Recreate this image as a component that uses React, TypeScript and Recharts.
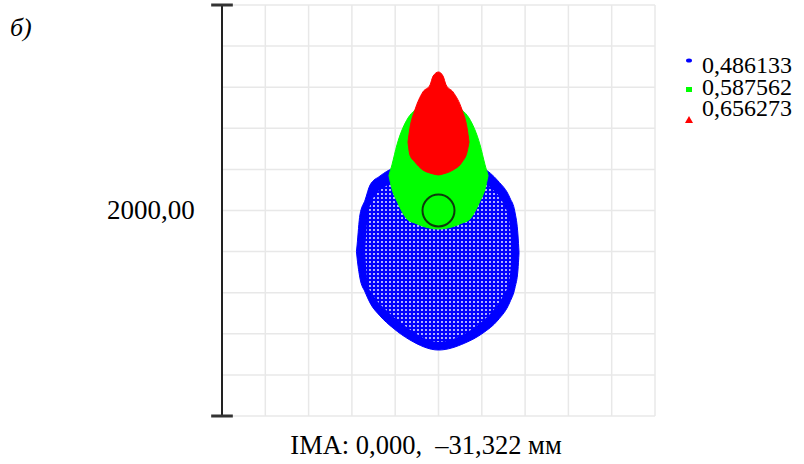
import { ComposedChart, Area, XAxis, YAxis, CartesianGrid, ReferenceLine, ReferenceDot } from "recharts";

// spot diagram, units: µm on the image plane, 200 µm per grid cell
const gridTicks = [-1000, -800, -600, -400, -200, 0, 200, 400, 600, 800, 1000];
const wavelengths = ["0,486133", "0,587562", "0,656273"];
const scaleLabel = "2000,00";
const fieldLabel = "IMA: 0,000,  –31,322 мм";
const airyRadius = 16;

// outline of each spot as [bottom, top] per x
const blueSpot = [
  { x: -379, y: [-200, -200] },
  { x: -376, y: [-231, -168] },
  { x: -363, y: [-328, -22] },
  { x: -339, y: [-397, 51] },
  { x: -316, y: [-450, 124] },
  { x: -270, y: [-513, 168] },
  { x: -210, y: [-572, 207] },
  { x: -132, y: [-630, 236] },
  { x: 0, y: [-679, 255] },
  { x: 122, y: [-645, 236] },
  { x: 206, y: [-596, 207] },
  { x: 275, y: [-533, 144] },
  { x: 330, y: [-445, 61] },
  { x: 353, y: [-377, -7] },
  { x: 367, y: [-290, -119] },
  { x: 372, y: [-205, -205] },
];

// inner part of the blue spot where the ray grid is sparse
const blueInner = [
  { x: -339, y: [-200, -200] },
  { x: -326, y: [-363, -22] },
  { x: -293, y: [-426, 75] },
  { x: -242, y: [-484, 119] },
  { x: -178, y: [-543, 158] },
  { x: -109, y: [-596, 178] },
  { x: 0, y: [-640, 187] },
  { x: 109, y: [-606, 178] },
  { x: 182, y: [-557, 158] },
  { x: 242, y: [-499, 109] },
  { x: 298, y: [-416, 36] },
  { x: 326, y: [-348, -46] },
  { x: 339, y: [-200, -200] },
];

const greenSpot = [
  { x: -229, y: [170, 170] },
  { x: -215, y: [105, 222] },
  { x: -192, y: [46, 319] },
  { x: -141, y: [-46, 450] },
  { x: -109, y: [-61, 489] },
  { x: -62, y: [-80, 528] },
  { x: 0, y: [-90, 547] },
  { x: 62, y: [-80, 528] },
  { x: 109, y: [-61, 489] },
  { x: 141, y: [-46, 450] },
  { x: 192, y: [46, 319] },
  { x: 215, y: [105, 222] },
  { x: 229, y: [170, 170] },
];

const redSpot = [
  { x: -141, y: [333, 333] },
  { x: -132, y: [270, 401] },
  { x: -109, y: [236, 489] },
  { x: -72, y: [197, 577] },
  { x: -39, y: [182, 611] },
  { x: -25, y: [178, 654] },
  { x: 0, y: [173, 674] },
  { x: 21, y: [178, 654] },
  { x: 35, y: [182, 611] },
  { x: 67, y: [197, 577] },
  { x: 109, y: [236, 489] },
  { x: 132, y: [285, 401] },
  { x: 141, y: [333, 333] },
];

const BLUE = "#0000ff";
const GREEN = "#00ff00";
const RED = "#ff0000";
const serif = '"Liberation Serif", "Times New Roman", serif';

function Marker({ kind, color }: { kind: string; color: string }) {
  const st = { display: "block" };
  if (kind === "tri")
    return (
      <svg width={8} height={7} style={st}>
        <polygon points="4,0 8,7 0,7" fill={color} />
      </svg>
    );
  if (kind === "sq")
    return (
      <svg width={8} height={7} style={st}>
        <rect x={1} y={1} width={6} height={5} fill={color} />
      </svg>
    );
  return (
    <svg width={8} height={7} style={st}>
      <ellipse cx={4} cy={3.5} rx={3} ry={2} fill={color} />
    </svg>
  );
}

export default function App() {
  const legend = [
    { name: wavelengths[0], color: BLUE, kind: "dot", top: 57 },
    { name: wavelengths[1], color: GREEN, kind: "sq", top: 86 },
    { name: wavelengths[2], color: RED, kind: "tri", top: 116 },
  ];
  return (
    <div style={{ position: "absolute", left: 0, top: 0, width: 804, height: 464, background: "#fff", fontFamily: serif }}>
      <ComposedChart width={804} height={464} margin={{ top: 5, right: 149, bottom: 48, left: 222 }}>
        <defs>
          <pattern id="rays" patternUnits="userSpaceOnUse" width={4} height={4}>
            <rect width={4} height={4} fill={BLUE} />
            <circle cx={2} cy={2} r={1.05} fill="#dcdcff" />
          </pattern>
        </defs>
        <XAxis type="number" dataKey="x" domain={[-1000, 1000]} ticks={gridTicks} hide />
        <YAxis type="number" domain={[-1000, 1000]} ticks={gridTicks} hide />
        <CartesianGrid stroke="#e8e8e8" strokeWidth={1.5} />
        <Area data={blueSpot} dataKey="y" type="monotone" fill={BLUE} fillOpacity={1} stroke={BLUE} strokeWidth={1} dot={false} activeDot={false} isAnimationActive={false} />
        <Area data={blueInner} dataKey="y" type="monotone" fill="url(#rays)" fillOpacity={1} stroke="none" dot={false} activeDot={false} isAnimationActive={false} />
        <Area data={greenSpot} dataKey="y" type="monotone" fill={GREEN} fillOpacity={1} stroke={GREEN} strokeWidth={1} dot={false} activeDot={false} isAnimationActive={false} />
        <Area data={redSpot} dataKey="y" type="monotone" fill={RED} fillOpacity={1} stroke={RED} strokeWidth={1} dot={false} activeDot={false} isAnimationActive={false} />
        <ReferenceDot x={0} y={0} r={airyRadius} fill="none" stroke="#0d3a0d" strokeWidth={2} />
        <ReferenceLine x={-1000} stroke="#222" strokeWidth={2} />
        <ReferenceLine segment={[{ x: -1050, y: 1000 }, { x: -950, y: 1000 }]} stroke="#333" strokeWidth={3} ifOverflow="visible" />
        <ReferenceLine segment={[{ x: -1050, y: -1000 }, { x: -950, y: -1000 }]} stroke="#333" strokeWidth={3} ifOverflow="visible" />
      </ComposedChart>

      <div style={{ position: "absolute", left: 10, top: 15, fontSize: 26, lineHeight: "26px", fontStyle: "italic" }}>б)</div>
      <div style={{ position: "absolute", left: 107, top: 197, fontSize: 27, lineHeight: "27px" }}>{scaleLabel}</div>
      <div style={{ position: "absolute", left: 0, width: 852, top: 432, textAlign: "center", fontSize: 26.5, lineHeight: "27px", whiteSpace: "pre" }}>
        {fieldLabel}
      </div>
      {legend.map((l, i) => (
        <div key={i}>
          <div style={{ position: "absolute", left: 685, top: l.top }}>
            <Marker kind={l.kind} color={l.color} />
          </div>
          <div style={{ position: "absolute", left: 702, top: 55 + i * 21.5, fontSize: 24, lineHeight: "20px" }}>{l.name}</div>
        </div>
      ))}
    </div>
  );
}
